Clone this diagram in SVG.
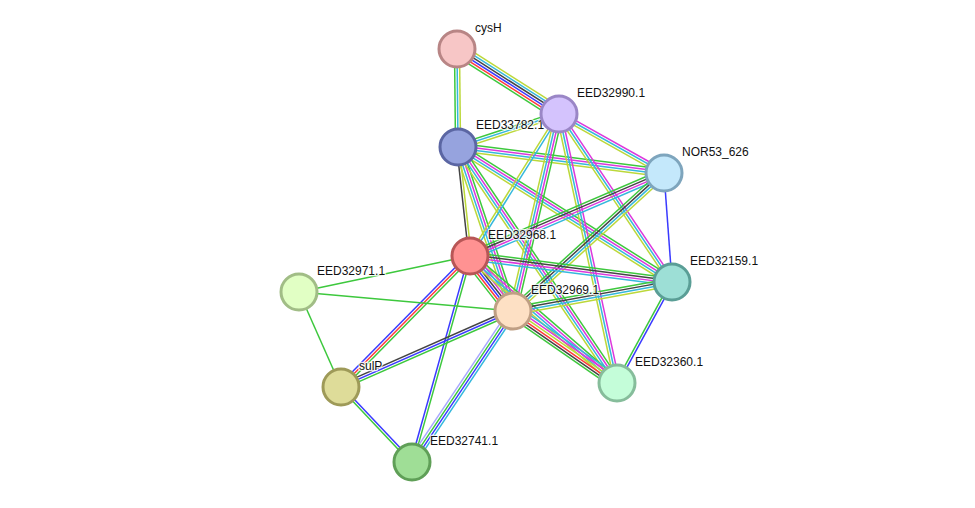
<svg xmlns="http://www.w3.org/2000/svg" width="975" height="508" viewBox="0 0 975 508">
<style>
line{stroke-width:1.2;fill:none}
.g{stroke:#3dc83d}.r{stroke:#ff3a3a}.b{stroke:#3a3aff}.k{stroke:#444444}
.m{stroke:#dc38dc}.c{stroke:#35b8dc}.y{stroke:#bcd83a}.h{stroke:#a8a8ff}
circle{stroke-width:3}
text{font-family:"Liberation Sans",Arial,sans-serif;font-size:12px;fill:#111;stroke:#fff;stroke-width:2.5;stroke-opacity:0.8;paint-order:stroke;stroke-linejoin:round}
</style>
<rect width="975" height="508" fill="#fff"/>
<g id="edges">
<g transform="translate(457,49) rotate(32.5) scale(1,1.25)"><line class="g" x2="121" y1="5" y2="5"/><line class="r" x2="121" y1="3" y2="3"/><line class="b" x2="121" y1="1" y2="1"/><line class="k" x2="121" y1="-1" y2="-1"/><line class="c" x2="121" y1="-3" y2="-3"/><line class="y" x2="121" y1="-5" y2="-5"/></g>
<g transform="translate(457,49) rotate(89.4) scale(1,1.25)"><line class="g" x2="98" y1="2" y2="2"/><line class="c" x2="98" y1="0" y2="0"/><line class="y" x2="98" y1="-2" y2="-2"/></g>
<g transform="translate(458,147) rotate(-18.1) scale(1,1.25)"><line class="g" x2="106.3" y1="-2" y2="-2"/><line class="c" x2="106.3" y1="0" y2="0"/><line class="y" x2="106.3" y1="2" y2="2"/></g>
<g transform="translate(458,147) rotate(7.2) scale(1,1.25)"><line class="g" x2="207.6" y1="-3" y2="-3"/><line class="m" x2="207.6" y1="-1" y2="-1"/><line class="c" x2="207.6" y1="1" y2="1"/><line class="y" x2="207.6" y1="3" y2="3"/></g>
<g transform="translate(559,114) rotate(29.3) scale(1,1.25)"><line class="m" x2="120.4" y1="-2" y2="-2"/><line class="c" x2="120.4" y1="0" y2="0"/><line class="y" x2="120.4" y1="2" y2="2"/></g>
<g transform="translate(458,147) rotate(83.7) scale(1,1.25)"><line class="k" x2="109.7" y1="1" y2="1"/><line class="y" x2="109.7" y1="-1" y2="-1"/></g>
<g transform="translate(458,147) rotate(71.5) scale(1,1.25)"><line class="g" x2="173" y1="-3" y2="-3"/><line class="m" x2="173" y1="-1" y2="-1"/><line class="c" x2="173" y1="1" y2="1"/><line class="y" x2="173" y1="3" y2="3"/></g>
<g transform="translate(458,147) rotate(32.2) scale(1,1.25)"><line class="g" x2="253" y1="-3" y2="-3"/><line class="m" x2="253" y1="-1" y2="-1"/><line class="c" x2="253" y1="1" y2="1"/><line class="y" x2="253" y1="3" y2="3"/></g>
<g transform="translate(458,147) rotate(56) scale(1,1.25)"><line class="g" x2="284.6" y1="-3" y2="-3"/><line class="m" x2="284.6" y1="-1" y2="-1"/><line class="c" x2="284.6" y1="1" y2="1"/><line class="y" x2="284.6" y1="3" y2="3"/></g>
<g transform="translate(559,114) rotate(122.1) scale(1,1.25)"><line class="c" x2="167.6" y1="-1" y2="-1"/><line class="y" x2="167.6" y1="1" y2="1"/></g>
<g transform="translate(559,114) rotate(103.1) scale(1,1.25)"><line class="g" x2="202.3" y1="-3" y2="-3"/><line class="m" x2="202.3" y1="-1" y2="-1"/><line class="c" x2="202.3" y1="1" y2="1"/><line class="y" x2="202.3" y1="3" y2="3"/></g>
<g transform="translate(559,114) rotate(56.1) scale(1,1.25)"><line class="m" x2="202.5" y1="-2" y2="-2"/><line class="c" x2="202.5" y1="0" y2="0"/><line class="y" x2="202.5" y1="2" y2="2"/></g>
<g transform="translate(559,114) rotate(77.8) scale(1,1.25)"><line class="m" x2="275.2" y1="-2" y2="-2"/><line class="c" x2="275.2" y1="0" y2="0"/><line class="y" x2="275.2" y1="2" y2="2"/></g>
<g transform="translate(664,173) rotate(156.8) scale(1,1.25)"><line class="g" x2="211" y1="3" y2="3"/><line class="k" x2="211" y1="1" y2="1"/><line class="m" x2="211" y1="-1" y2="-1"/><line class="c" x2="211" y1="-3" y2="-3"/></g>
<g transform="translate(664,173) rotate(137.6) scale(1,1.25)"><line class="g" x2="204.6" y1="3" y2="3"/><line class="k" x2="204.6" y1="1" y2="1"/><line class="c" x2="204.6" y1="-1" y2="-1"/><line class="y" x2="204.6" y1="-3" y2="-3"/></g>
<g transform="translate(664,173) rotate(85.8) scale(1,1.25)"><line class="b" x2="109.3"/></g>
<g transform="translate(470,256) rotate(7.3) scale(1,1.25)"><line class="g" x2="203.7" y1="-3" y2="-3"/><line class="k" x2="203.7" y1="-1" y2="-1"/><line class="m" x2="203.7" y1="1" y2="1"/><line class="c" x2="203.7" y1="3" y2="3"/></g>
<g transform="translate(470,256) rotate(52) scale(1,1.25)"><line class="g" x2="69.8" y1="6" y2="6"/><line class="r" x2="69.8" y1="4" y2="4"/><line class="b" x2="69.8" y1="2" y2="2"/><line class="k" x2="69.8" y1="0" y2="0"/><line class="m" x2="69.8" y1="-2" y2="-2"/><line class="c" x2="69.8" y1="-4" y2="-4"/><line class="y" x2="69.8" y1="-6" y2="-6"/></g>
<g transform="translate(470,256) rotate(40.8) scale(1,1.25)"><line class="g" x2="194.3" y1="-3" y2="-3"/><line class="m" x2="194.3" y1="-1" y2="-1"/><line class="c" x2="194.3" y1="1" y2="1"/><line class="y" x2="194.3" y1="3" y2="3"/></g>
<g transform="translate(470,256) rotate(168.1) scale(1,1.25)"><line class="g" x2="174.7"/></g>
<g transform="translate(470,256) rotate(134.6) scale(1,1.25)"><line class="g" x2="183.9" y1="-2" y2="-2"/><line class="r" x2="183.9" y1="0" y2="0"/><line class="b" x2="183.9" y1="2" y2="2"/></g>
<g transform="translate(470,256) rotate(105.7) scale(1,1.25)"><line class="g" x2="214" y1="-1" y2="-1"/><line class="b" x2="214" y1="1" y2="1"/></g>
<g transform="translate(513,311) rotate(-10.3) scale(1,1.25)"><line class="g" x2="161.6" y1="-3" y2="-3"/><line class="k" x2="161.6" y1="-1" y2="-1"/><line class="c" x2="161.6" y1="1" y2="1"/><line class="y" x2="161.6" y1="3" y2="3"/></g>
<g transform="translate(513,311) rotate(34.7) scale(1,1.25)"><line class="g" x2="126.5" y1="5" y2="5"/><line class="k" x2="126.5" y1="3" y2="3"/><line class="r" x2="126.5" y1="1" y2="1"/><line class="y" x2="126.5" y1="-1" y2="-1"/><line class="m" x2="126.5" y1="-3" y2="-3"/><line class="c" x2="126.5" y1="-5" y2="-5"/></g>
<g transform="translate(513,311) rotate(185.1) scale(1,1.25)"><line class="g" x2="214.8"/></g>
<g transform="translate(513,311) rotate(156.2) scale(1,1.25)"><line class="g" x2="188" y1="-2" y2="-2"/><line class="b" x2="188" y1="0" y2="0"/><line class="k" x2="188" y1="2" y2="2"/></g>
<g transform="translate(513,311) rotate(123.8) scale(1,1.25)"><line class="h" x2="181.7" y1="3" y2="3"/><line class="g" x2="181.7" y1="1" y2="1"/><line class="b" x2="181.7" y1="-1" y2="-1"/><line class="c" x2="181.7" y1="-3" y2="-3"/></g>
<g transform="translate(672,282) rotate(118.6) scale(1,1.25)"><line class="g" x2="115" y1="1" y2="1"/><line class="b" x2="115" y1="-1" y2="-1"/></g>
<g transform="translate(299,292) rotate(66.1) scale(1,1.25)"><line class="g" x2="103.9"/></g>
<g transform="translate(341,387) rotate(46.6) scale(1,1.25)"><line class="g" x2="103.3" y1="1" y2="1"/><line class="b" x2="103.3" y1="-1" y2="-1"/></g>
</g>
<g id="node-cysH"><circle cx="457" cy="49" r="18" fill="#f7c6c6" stroke="#b88585"/><text x="475" y="32">cysH</text></g>
<g id="node-EED33782.1"><circle cx="458" cy="147" r="18" fill="#96a3de" stroke="#5b66a3"/><text x="476" y="129">EED33782.1</text></g>
<g id="node-EED32990.1"><circle cx="559" cy="114" r="18" fill="#d4c3fd" stroke="#9a86c6"/><text x="577" y="97">EED32990.1</text></g>
<g id="node-NOR53_626"><circle cx="664" cy="173" r="18" fill="#c4e8fb" stroke="#7ea5bd"/><text x="682" y="156">NOR53_626</text></g>
<g id="node-EED32968.1"><circle cx="470" cy="256" r="18" fill="#ff9292" stroke="#b85656"/><text x="488" y="239">EED32968.1</text></g>
<g id="node-EED32159.1"><circle cx="672" cy="282" r="18" fill="#9ddfd6" stroke="#5a9e96"/><text x="690" y="265">EED32159.1</text></g>
<g id="node-EED32971.1"><circle cx="299" cy="292" r="18" fill="#e1ffc4" stroke="#a1bd86"/><text x="317" y="275">EED32971.1</text></g>
<g id="node-EED32969.1"><circle cx="513" cy="311" r="18" fill="#fde0c4" stroke="#bf9f84"/><text x="531" y="294">EED32969.1</text></g>
<g id="node-EED32360.1"><circle cx="617" cy="383" r="18" fill="#c4fdd9" stroke="#86bd9b"/><text x="635" y="366">EED32360.1</text></g>
<g id="node-sulP"><circle cx="341" cy="387" r="18" fill="#dedc99" stroke="#9e9a58"/><text x="359" y="370">sulP</text></g>
<g id="node-EED32741.1"><circle cx="412" cy="462" r="18" fill="#9fde96" stroke="#5f9f57"/><text x="430" y="445">EED32741.1</text></g>
</svg>
